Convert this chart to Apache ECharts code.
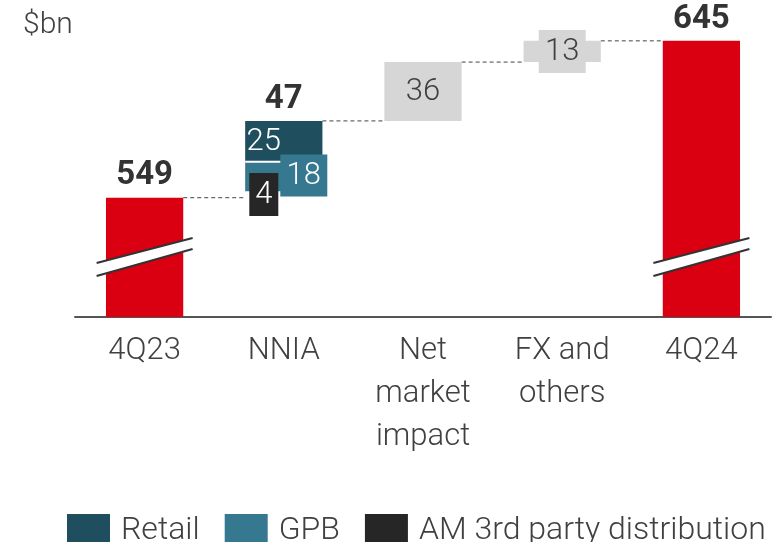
<!DOCTYPE html>
<html>
<head>
<meta charset="utf-8">
<script src="https://cdn.jsdelivr.net/npm/echarts@6/dist/echarts.min.js"></script>
<style>
  html, body { margin: 0; padding: 0; background: #fff; }
  #chart { width: 783px; height: 542px; }
</style>
</head>
<body>
<div id="chart"></div>
<script>
// data
const categories = ['4Q23', 'NNIA', 'Net\nmarket\nimpact', 'FX and\nothers', '4Q24'];
const totals = [549, null, null, null, 645];
const nniaNames = ['Retail', 'GPB', 'AM 3rd party distribution'];
const nniaParts = [25, 18, 4];
const otherMoves = [36, 13]; // net market impact, FX and others
const breakAt = 513; // where the axis break marks sit

const RED = '#db0011';
const GREY = '#d6d6d6';
const TXT = '#404040';
const FONT = 'Roboto, "Liberation Sans", sans-serif';
const partColors = ['#1f4f5f', '#35788f', '#262626'];

const start = totals[0];
const nniaTotal = nniaParts.reduce((a, b) => a + b, 0);
// stack the NNIA parts from the bottom: AM, GPB, Retail
const amLow = start;
const gpbLow = amLow + nniaParts[2];
const retailLow = gpbLow + nniaParts[1];
const afterNnia = start + nniaTotal;
const afterMarket = afterNnia + otherMoves[0];
const afterFx = afterMarket + otherMoves[1];

const BAR = 0.555;

function barBox(api, cat, low, high) {
  const top = api.coord([cat, high]);
  const bot = api.coord([cat, low]);
  const w = api.size([1, 0])[0] * BAR;
  return { x: top[0] - w / 2, y: top[1], width: w, height: bot[1] - top[1], cx: top[0] };
}

// floating piece with optional label box
function floatSeries(name, color, data, opts) {
  return {
    name: name,
    type: 'custom',
    itemStyle: { color: color },
    encode: { x: 0, y: [1, 2] },
    data: data,
    z: opts.z,
    renderItem: function (params, api) {
      const cat = api.value(0), low = api.value(1), high = api.value(2);
      const b = barBox(api, cat, low, high);
      const cy = b.y + b.height / 2;
      const children = [];
      if (!opts.boxOnly) {
        children.push({
          type: 'rect',
          shape: { x: b.x, y: b.y, width: b.width, height: b.height },
          style: { fill: color }
        });
      }
      if (opts.topLine) {
        children.push({
          type: 'line',
          shape: { x1: b.x, y1: b.y, x2: b.x + b.width, y2: b.y },
          style: { stroke: '#fff', lineWidth: 2 }
        });
      }
      if (opts.box) {
        children.push({
          type: 'rect',
          shape: {
            x: b.cx + opts.dx - opts.box[0] / 2, y: cy + (opts.dy || 0) - opts.box[1] / 2,
            width: opts.box[0], height: opts.box[1]
          },
          style: { fill: color }
        });
      }
      children.push({
        type: 'text',
        x: b.cx + opts.dx, y: cy + (opts.dy || 0) + 1,
        style: {
          text: String(high - low), fill: opts.textColor, font: '300 31px ' + FONT,
          align: 'center', verticalAlign: 'middle'
        }
      });
      if (opts.total) {
        children.push({
          type: 'text',
          x: b.cx, y: b.y - 5,
          style: {
            text: String(opts.total), fill: '#333', font: 'bold 33px ' + FONT,
            align: 'center', verticalAlign: 'bottom'
          }
        });
      }
      return { type: 'group', children: children };
    }
  };
}

const chart = echarts.init(document.getElementById('chart'));

const option = {
  animation: false,
  title: {
    text: '$bn', left: 18, top: 5,
    textStyle: { color: TXT, fontSize: 30, fontWeight: 300, fontFamily: FONT }
  },
  legend: {
    data: nniaNames,
    left: 62, top: 509,
    icon: 'rect',
    itemWidth: 43, itemHeight: 33, itemGap: 25,
    textStyle: { color: TXT, fontSize: 32, fontWeight: 300, fontFamily: FONT, padding: [0, 0, 0, 6] }
  },
  grid: { left: 75, right: 12, top: 0, bottom: 225 },
  xAxis: {
    type: 'category',
    data: categories,
    axisTick: { show: false },
    axisLine: { lineStyle: { color: '#555', width: 2 } },
    axisLabel: { color: TXT, fontSize: 31, fontWeight: 300, lineHeight: 43, margin: 13, fontFamily: FONT, interval: 0 }
  },
  yAxis: { type: 'value', min: 476, max: 670, show: false, splitLine: { show: false } },
  series: [
    {
      name: 'totals',
      type: 'bar',
      barWidth: (BAR * 100) + '%',
      data: totals,
      itemStyle: { color: RED },
      label: {
        show: true, position: 'top', distance: 5,
        color: '#333', fontSize: 33, fontWeight: 'bold', fontFamily: FONT
      },
      z: 2
    },
    {
      name: 'connectors',
      type: 'custom',
      data: [[0, 1, start], [1, 2, afterNnia], [2, 3, afterMarket], [3, 4, afterFx]],
      z: 1,
      renderItem: function (params, api) {
        const a = api.coord([api.value(0), api.value(2)]);
        const b = api.coord([api.value(1), api.value(2)]);
        const half = api.size([1, 0])[0] * BAR / 2;
        return {
          type: 'line',
          shape: { x1: a[0] + half, y1: a[1], x2: b[0] - half, y2: b[1] },
          style: { stroke: '#444', lineWidth: 1, lineDash: [4, 3] }
        };
      }
    },
    floatSeries(nniaNames[0], partColors[0], [[1, retailLow, afterNnia]],
      { dx: -20, textColor: '#fff', total: nniaTotal, z: 3 }),
    floatSeries(nniaNames[1], partColors[1], [[1, gpbLow, retailLow]],
      { dx: 20, dy: -1, box: [47, 42], textColor: '#fff', topLine: true, z: 4 }),
    floatSeries(nniaNames[2], partColors[2], [[1, amLow, gpbLow]],
      { dx: -20, box: [29, 43], textColor: '#fff', boxOnly: true, z: 5 }),
    floatSeries('market', GREY, [[2, afterNnia, afterMarket]],
      { dx: 0, textColor: TXT, z: 3 }),
    floatSeries('fx', GREY, [[3, afterMarket, afterFx]],
      { dx: 0, box: [47, 43], textColor: TXT, z: 3 }),
    {
      name: 'breaks',
      type: 'custom',
      data: [[0, breakAt], [4, breakAt]],
      z: 6,
      renderItem: function (params, api) {
        const c = api.coord([api.value(0), api.value(1)]);
        const x0 = c[0] - 48, x1 = c[0] + 48;
        const u0 = c[1] + 6.5, u1 = c[1] - 18.5, l0 = c[1] + 19.5, l1 = c[1] - 7.5;
        return {
          type: 'group',
          children: [
            { type: 'polygon', shape: { points: [[x0, u0], [x1, u1], [x1, l1], [x0, l0]] }, style: { fill: '#fff' } },
            { type: 'line', shape: { x1: x0, y1: u0, x2: x1, y2: u1 }, style: { stroke: '#333', lineWidth: 2 } },
            { type: 'line', shape: { x1: x0, y1: l0, x2: x1, y2: l1 }, style: { stroke: '#333', lineWidth: 2 } }
          ]
        };
      }
    }
  ]
};

chart.setOption(option);
</script>
</body>
</html>
